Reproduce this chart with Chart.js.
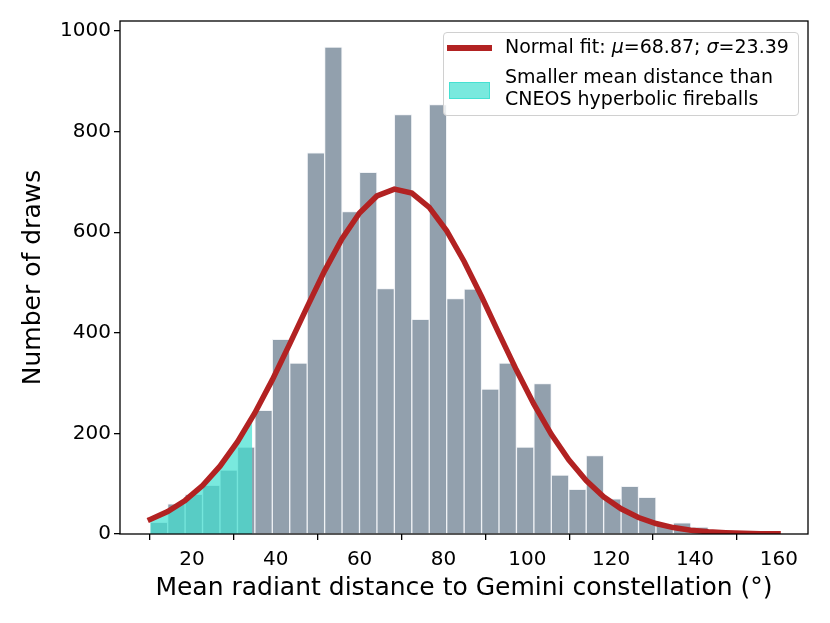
<!DOCTYPE html>
<html>
<head>
<meta charset="utf-8">
<script src="https://cdn.jsdelivr.net/npm/chart.js@4.4.1/dist/chart.umd.min.js"></script>
<style>
  html, body { margin: 0; padding: 0; background: #fff; }
  #wrap { position: relative; width: 830px; height: 623px; }
  #legend {
    position: absolute; left: 443px; top: 32px; width: 354px; height: 82px;
    border: 1px solid #d0d0d0; border-radius: 4px; background: rgba(255,255,255,0.8);
    font-family: "DejaVu Sans", sans-serif; font-size: 19px; line-height: 21.7px; color: #000;
  }
  .swatch { position: absolute; }
  .txt { position: absolute; left: 61px; white-space: nowrap; }
</style>
</head>
<body>
<div id="wrap">
  <canvas id="histChart" width="830" height="623"></canvas>
  <div id="legend"></div>
</div>
<script>
// histogram bins (centres, degrees) and counts
const binCenters = [12.13, 16.29, 20.45, 24.61, 28.77, 32.93, 37.09, 41.25, 45.41, 49.57,
  53.73, 57.89, 62.05, 66.21, 70.37, 74.53, 78.69, 82.85, 87.01, 91.17,
  95.33, 99.49, 103.65, 107.81, 111.97, 116.13, 120.29, 124.45, 128.61, 132.77,
  136.93, 141.09, 145.25, 149.41, 153.57, 157.73];
const binCounts = [23, 60, 79, 97, 127, 173, 246, 387, 340, 758,
  968, 641, 719, 488, 834, 427, 854, 468, 487, 288,
  340, 173, 299, 117, 89, 156, 70, 95, 73, 17,
  22, 14, 3, 1, 0, 1];

// normal fit, read at the bin edges
const fitX = [10.05, 14.21, 18.37, 22.53, 26.69, 30.85, 35.01, 39.17, 43.33, 47.49,
  51.65, 55.81, 59.97, 64.13, 68.29, 72.45, 76.61, 80.77, 84.93, 89.09,
  93.25, 97.41, 101.57, 105.73, 109.89, 114.05, 118.21, 122.37, 126.53, 130.69,
  134.85, 139.01, 143.17, 147.33, 151.49, 155.65, 159.81];
const fitY = [29.0, 44.7, 66.7, 96.4, 134.9, 183.1, 240.6, 306.4, 378.0, 451.7,
  523.2, 587.0, 638.1, 672.1, 685.8, 678.0, 649.4, 602.7, 541.9, 472.1,
  398.5, 325.9, 258.2, 198.2, 147.4, 106.2, 74.1, 50.1, 32.8, 20.9,
  12.8, 7.6, 4.4, 2.5, 1.3, 0.7, 0.4];

// shaded part under the fit (smaller than CNEOS distance)
const shadeX = [10.05, 14.21, 18.37, 22.53, 26.69, 30.85, 34.4];
const shadeY = [29.0, 44.7, 66.7, 96.4, 134.9, 183.1, 232.0];

const xTicks = [20, 40, 60, 80, 100, 120, 140, 160];
const yTicks = [0, 200, 400, 600, 800, 1000];

const fitLabel = 'Normal fit: <i>\u03bc</i>=68.87; <i>\u03c3</i>=23.39';
const shadeLabel = 'Smaller mean distance than<br>CNEOS hyperbolic fireballs';
const xTitle = 'Mean radiant distance to Gemini constellation (\u00b0)';
const yTitle = 'Number of draws';

const pairs = (xs, ys) => xs.map((x, i) => ({ x: x, y: ys[i] }));

const frame = {
  id: 'frame',
  afterDraw(chart) {
    const a = chart.chartArea, ctx = chart.ctx;
    ctx.save();
    ctx.strokeStyle = '#000';
    ctx.lineWidth = 1.3;
    ctx.strokeRect(a.left, a.top, a.right - a.left, a.bottom - a.top);
    ctx.restore();
  }
};

const font = { family: 'DejaVu Sans' };

new Chart('histChart', {
  type: 'bar',
  data: {
    datasets: [
      {
        type: 'line',
        label: 'fit',
        data: pairs(fitX, fitY),
        borderColor: '#b22222',
        borderWidth: 5.5,
        borderCapStyle: 'square',
        pointRadius: 0,
        tension: 0,
        fill: false,
        order: 0
      },
      {
        type: 'line',
        label: 'shade',
        data: pairs(shadeX, shadeY),
        borderWidth: 0,
        pointRadius: 0,
        tension: 0,
        fill: 'origin',
        backgroundColor: 'rgba(64,224,208,0.7)',
        order: 1
      },
      {
        label: 'draws',
        data: pairs(binCenters, binCounts),
        backgroundColor: 'rgba(119,136,153,0.8)',
        borderColor: 'rgba(240,242,245,0.9)',
        borderWidth: 1,
        barPercentage: 1,
        categoryPercentage: 1,
        order: 2
      }
    ]
  },
  options: {
    responsive: false,
    animation: false,
    layout: { padding: { top: 21, right: 22, left: 0, bottom: 0 } },
    plugins: { legend: { display: false }, tooltip: { enabled: false } },
    scales: {
      x: {
        type: 'linear',
        min: 2.84,
        max: 166.96,
        offset: false,
        afterFit(scale) { scale.height = 89; },
        afterBuildTicks(scale) { scale.ticks = xTicks.map(v => ({ value: v })); },
        grid: { drawOnChartArea: false, drawTicks: true, tickLength: 6, color: '#000', lineWidth: 1.3 },
        border: { display: false },
        ticks: { color: '#000', padding: 8, maxRotation: 0, font: { ...font, size: 20 },
          callback: v => String(v) },
        title: { display: true, text: xTitle, color: '#000', padding: { top: 0, bottom: 20 }, font: { ...font, size: 25 } }
      },
      y: {
        min: 0,
        max: 1020,
        afterFit(scale) { scale.width = 120; },
        afterBuildTicks(scale) { scale.ticks = yTicks.map(v => ({ value: v })); },
        grid: { drawOnChartArea: false, drawTicks: true, tickLength: 6, color: '#000', lineWidth: 1.3 },
        border: { display: false },
        ticks: { color: '#000', padding: 3, font: { ...font, size: 20 },
          callback: v => String(v) },
        title: { display: true, text: yTitle, color: '#000', padding: { top: 18, bottom: 0 }, font: { ...font, size: 25 } }
      }
    }
  },
  plugins: [frame]
});

// legend inside the plot, matplotlib style
document.getElementById('legend').innerHTML =
  '<div class="swatch" style="left:3px;top:12px;width:45px;height:5.5px;background:#b22222"></div>' +
  '<div class="txt" style="top:3px">' + fitLabel + '</div>' +
  '<div class="swatch" style="left:5px;top:49px;width:39px;height:15px;background:rgba(64,224,208,0.7);border:1px solid rgba(64,224,208,0.9)"></div>' +
  '<div class="txt" style="top:33px">' + shadeLabel + '</div>';
</script>
</body>
</html>
